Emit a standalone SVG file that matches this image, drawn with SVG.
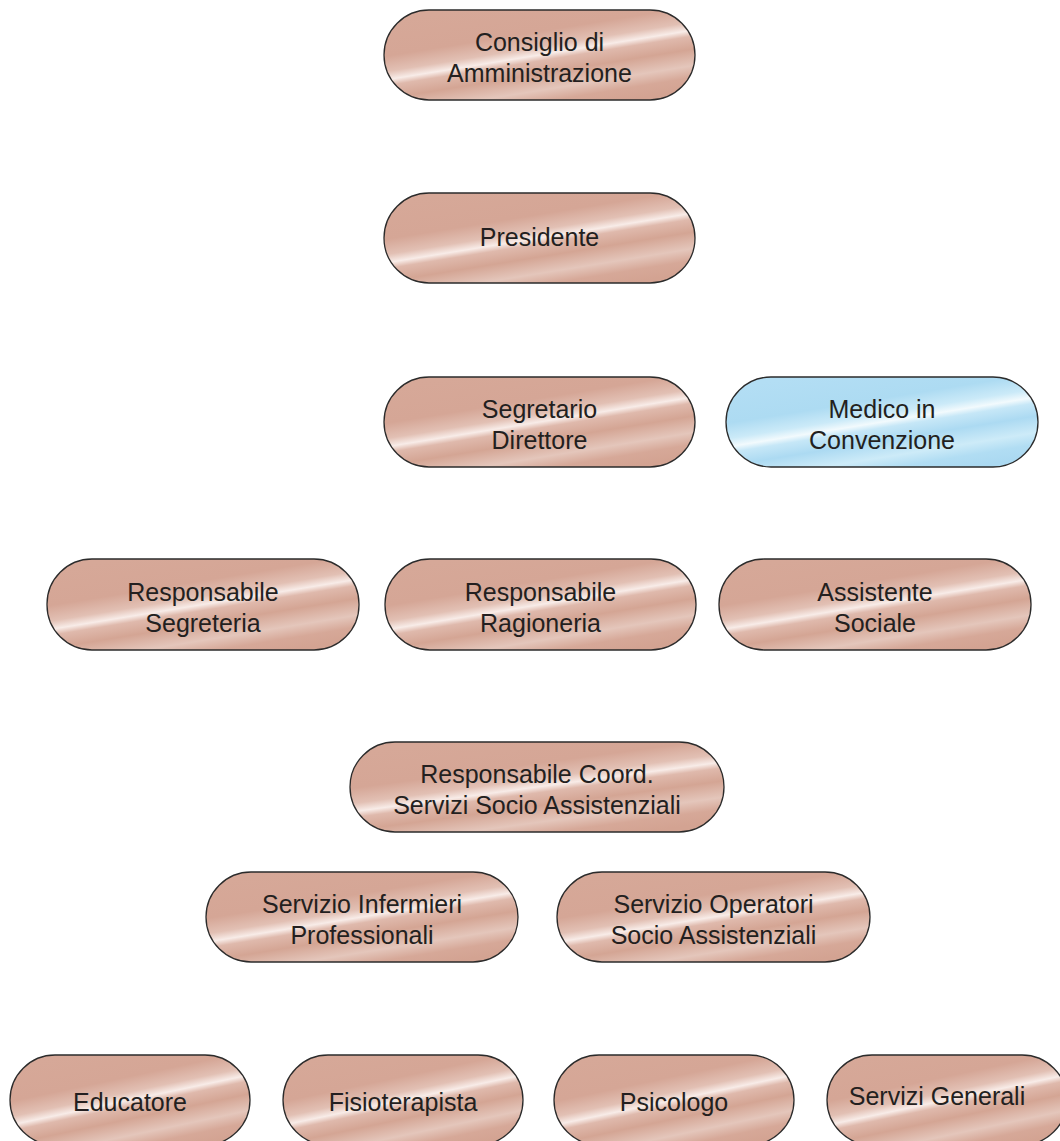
<svg xmlns="http://www.w3.org/2000/svg" width="1060" height="1141" viewBox="0 0 1060 1141">
<defs>
<linearGradient id="rose" x1="0.22" y1="0" x2="0.78" y2="1">
<stop offset="0" stop-color="#d6a898"/>
<stop offset="0.3" stop-color="#d5a696"/>
<stop offset="0.43" stop-color="#e2c0b4"/>
<stop offset="0.5" stop-color="#f8ece8"/>
<stop offset="0.55" stop-color="#dfb9ac"/>
<stop offset="0.66" stop-color="#d4a594"/>
<stop offset="0.8" stop-color="#e4c6bb"/>
<stop offset="0.9" stop-color="#d6a898"/>
<stop offset="1" stop-color="#d3a392"/>
</linearGradient>
<linearGradient id="blue" x1="0.22" y1="0" x2="0.78" y2="1">
<stop offset="0" stop-color="#b3def4"/>
<stop offset="0.3" stop-color="#addbf2"/>
<stop offset="0.43" stop-color="#cbeaf8"/>
<stop offset="0.5" stop-color="#f2fafd"/>
<stop offset="0.55" stop-color="#c6e7f7"/>
<stop offset="0.66" stop-color="#acdaf2"/>
<stop offset="0.8" stop-color="#cdebf8"/>
<stop offset="0.9" stop-color="#b1ddf3"/>
<stop offset="1" stop-color="#abd9f1"/>
</linearGradient>
</defs>
<style>
.n rect{fill:url(#rose);stroke:#2b2b2b;stroke-width:1.3}
.b rect{fill:url(#blue);stroke:#2b2b2b;stroke-width:1.3}
text{font-family:"Liberation Sans",Arial,sans-serif;font-size:25px;fill:#231f20;text-anchor:middle}
</style>
<g id="connectors"></g>
<g id="consiglio" class="n"><rect x="384" y="10" width="311" height="90" rx="45"/><text x="539.5" y="51">Consiglio di</text><text x="539.5" y="82">Amministrazione</text></g>
<g id="presidente" class="n"><rect x="384" y="193" width="311" height="90" rx="45"/><text x="539.5" y="246">Presidente</text></g>
<g id="segretario" class="n"><rect x="384" y="377" width="311" height="90" rx="45"/><text x="539.5" y="418">Segretario</text><text x="539.5" y="449">Direttore</text></g>
<g id="medico" class="b"><rect x="726" y="377" width="312" height="90" rx="45"/><text x="882" y="418">Medico in</text><text x="882" y="449">Convenzione</text></g>
<g id="segreteria" class="n"><rect x="47" y="559" width="312" height="91" rx="45"/><text x="203" y="601">Responsabile</text><text x="203" y="632">Segreteria</text></g>
<g id="ragioneria" class="n"><rect x="385" y="559" width="311" height="91" rx="45"/><text x="540.5" y="601">Responsabile</text><text x="540.5" y="632">Ragioneria</text></g>
<g id="assistente" class="n"><rect x="719" y="559" width="312" height="91" rx="45"/><text x="875" y="601">Assistente</text><text x="875" y="632">Sociale</text></g>
<g id="coord" class="n"><rect x="350" y="742" width="374" height="90" rx="45"/><text x="537" y="783">Responsabile Coord.</text><text x="537" y="814">Servizi Socio Assistenziali</text></g>
<g id="infermieri" class="n"><rect x="206" y="872" width="312" height="90" rx="45"/><text x="362" y="913">Servizio Infermieri</text><text x="362" y="944">Professionali</text></g>
<g id="operatori" class="n"><rect x="557" y="872" width="313" height="90" rx="45"/><text x="713.5" y="913">Servizio Operatori</text><text x="713.5" y="944">Socio Assistenziali</text></g>
<g id="educatore" class="n"><rect x="10" y="1055" width="240" height="90" rx="45"/><text x="130" y="1111">Educatore</text></g>
<g id="fisioterapista" class="n"><rect x="283" y="1055" width="240" height="90" rx="45"/><text x="403" y="1111">Fisioterapista</text></g>
<g id="psicologo" class="n"><rect x="554" y="1055" width="240" height="90" rx="45"/><text x="674" y="1111">Psicologo</text></g>
<g id="generali" class="n"><rect x="827" y="1055" width="240" height="90" rx="45"/><text x="937" y="1105">Servizi Generali</text></g>
</svg>
